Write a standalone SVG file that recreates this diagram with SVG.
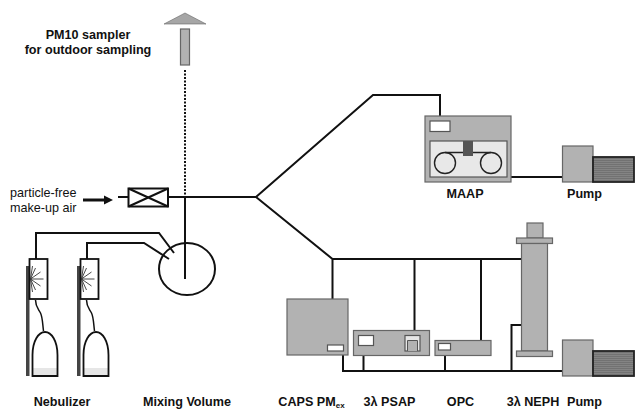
<svg xmlns="http://www.w3.org/2000/svg" width="635" height="409" viewBox="0 0 635 409">
<style>
text{font-family:"Liberation Sans",Arial,sans-serif;font-size:12.6px;fill:#111}
.b{font-weight:bold;text-anchor:middle}
.g{fill:#b2b2b2;stroke:#666;stroke-width:1.2}
.w{fill:#fff;stroke:#555;stroke-width:1.2}
.l{fill:none;stroke:#111;stroke-width:2}
.k{fill:none;stroke:#222;stroke-width:1.4}
.s{fill:none;stroke:#333;stroke-width:.9}
</style>
<defs>
<pattern id="h" width="4" height="2" patternUnits="userSpaceOnUse"><rect width="4" height="2" fill="#848484"/><rect width="4" height="1" fill="#727272"/></pattern>
<g id="pump"><rect class="g" x="0" y="0" width="30.5" height="36"/><rect x="30.5" y="11" width="41" height="25" fill="url(#h)" stroke="#222" stroke-width="1.8"/></g>
<g id="neb"><rect x="-3.500" y="7" width="3.500" height="110" fill="#444"/><rect x="0" y="0" width="18" height="40" fill="#fff" stroke="#111" stroke-width="1.800"/>
<path class="s" d="M1 20H14M1 20L11 13M1 20L11 27M1 20L6 9M1 20L6 31M1 20L3 7M1 20L3 33"/>
<path d="M6 41C6 48 9 50 11 54C13 58 13 64 14 72" fill="none" stroke="#111" stroke-width="1.500"/>
<path d="M3 109H28V117H3Z" fill="#e6e6e6"/>
<path d="M3 117V96C3 82 9 73 15.500 73C22 73 28 82 28 96V117Z" fill="none" stroke="#111" stroke-width="1.800"/></g>
</defs>
<g id="connectors">
<path class="l" d="M118 197H128M168 197H256L373 95H440V116M256 197L332.500 259H521.500M185 197V279M332.500 259V299M414.500 259V330M481 259V340"/>
<path class="l" d="M511 177H562.500M343 355V371H562.500M363.500 355V371M445 355V371M511.500 371V325H521.500"/>
<path class="l" d="M36 259V233H159L174 253M87 259V243H144L169 259"/>
<path d="M185 70V197" fill="none" stroke="#111" stroke-width="2" stroke-dasharray="2 1.500"/>
<path d="M83 200H105" fill="none" stroke="#111" stroke-width="3"/><path d="M104 195.500L113 200L104 204.500Z" fill="#111"/>
</g>
<g id="sampler"><path d="M164 24L185 13L206 24Z" fill="#a6a6a6" stroke="#666" stroke-width=".6"/><rect class="g" x="180.500" y="29" width="9" height="36"/>
<text class="b" x="88" y="38.500">PM10 sampler</text><text class="b" x="88" y="54">for outdoor sampling</text></g>
<g id="makeup"><text x="10" y="196.500">particle-free</text><text x="10" y="212">make-up air</text></g>
<g id="filter"><rect x="128.500" y="188.500" width="39.500" height="18" fill="#fff" stroke="#111" stroke-width="2"/><path class="l" d="M128.500 188.500L168 206.500M168 188.500L128.500 206.500"/></g>
<g id="mixing"><ellipse cx="187" cy="269" rx="28" ry="26" class="l"/><text class="b" x="187" y="406">Mixing Volume</text></g>
<g id="nebulizer"><use href="#neb" x="29.500" y="259"/><use href="#neb" x="80.500" y="259"/><text class="b" x="62" y="406">Nebulizer</text></g>
<g id="maap"><rect class="g" x="425" y="116" width="86" height="66"/><rect class="w" x="430" y="121" width="20" height="10.500"/>
<rect x="430" y="141" width="77" height="36" fill="#e8e8e8" stroke="#555" stroke-width="1.200"/>
<circle class="k" cx="445" cy="163" r="10.500"/><circle class="k" cx="491" cy="163" r="10.500"/><path class="k" d="M445 152.500H491"/>
<rect x="463" y="141" width="10" height="15" fill="#555"/><text class="b" x="465" y="198">MAAP</text></g>
<g id="pump1"><use href="#pump" x="562.500" y="146"/><text class="b" x="584.500" y="198">Pump</text></g>
<g id="caps"><rect class="g" x="287" y="299" width="61" height="56"/><rect class="w" x="327.500" y="345" width="16" height="6"/>
<text class="b" x="311.500" y="406">CAPS PM<tspan font-size="8" dy="2">ex</tspan></text></g>
<g id="psap"><rect class="g" x="353.500" y="330.500" width="76" height="25"/><rect class="w" x="358.500" y="335.500" width="15" height="10"/>
<rect x="405" y="335.500" width="15" height="15.500" fill="#e6e6e6" stroke="#555" stroke-width="1.200"/><path d="M407.500 351V340.500H417.500V351" fill="#b2b2b2" stroke="#555" stroke-width="1"/>
<text class="b" x="389.500" y="406">3λ PSAP</text></g>
<g id="opc"><rect class="g" x="435" y="340.500" width="56" height="15"/><rect class="w" x="438.500" y="343.500" width="12" height="6.500"/><text class="b" x="460.500" y="406">OPC</text></g>
<g id="neph"><rect class="g" x="527" y="223" width="16" height="15"/><rect class="g" x="516.500" y="238" width="36" height="5.500"/><rect class="g" x="521.500" y="243.500" width="26" height="107.500"/><rect class="g" x="516.500" y="351" width="36" height="5.500"/>
<text class="b" x="533" y="406">3λ NEPH</text></g>
<g id="pump2"><use href="#pump" x="562.500" y="340"/><text class="b" x="584.500" y="406">Pump</text></g>
</svg>
